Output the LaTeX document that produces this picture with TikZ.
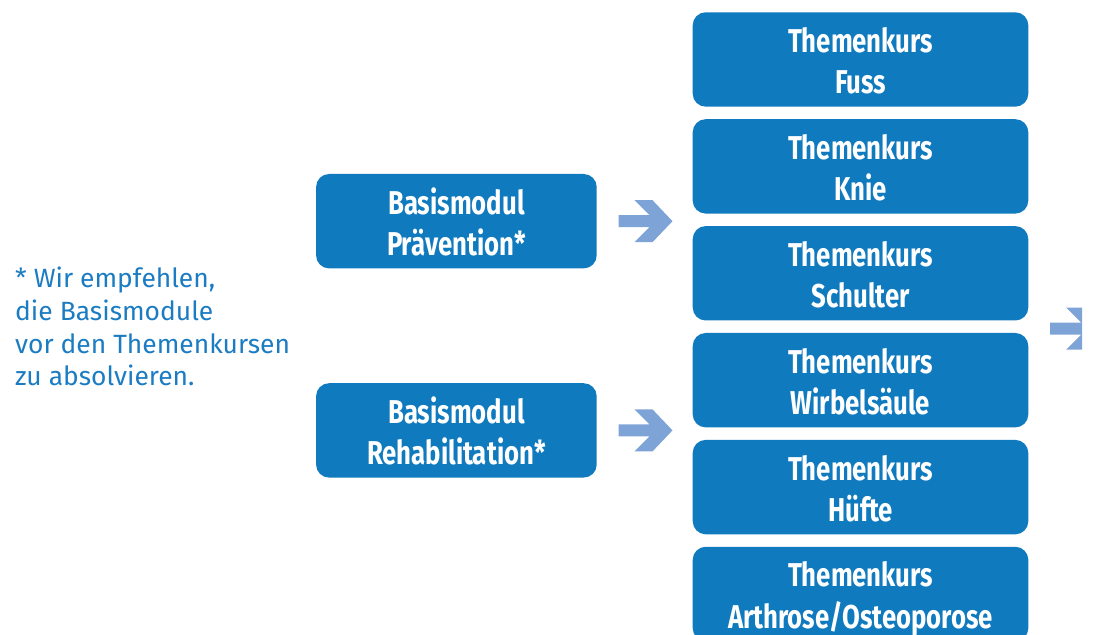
\documentclass[tikz,border=0pt]{standalone}
\usepackage{fontspec}
\setmainfont{Fira Sans}
\newfontfamily\kursfont{Fira Sans}[FakeStretch=0.78]
\usetikzlibrary{positioning}
\definecolor{kursblau}{RGB}{16,122,190}
\definecolor{pfeilblau}{RGB}{126,163,215}
\definecolor{textblau}{RGB}{27,124,194}
\begin{document}
\begin{tikzpicture}[x=1pt,y=1pt,node distance=12.1pt,
  kurs/.style={rectangle, rounded corners=13pt, fill=kursblau, text=white,
    minimum width=335.6pt, minimum height=94.4pt, inner sep=0pt, align=center,
    text height=69pt, text depth=0pt,
    font=\kursfont\bfseries\fontsize{33}{41.5}\selectfont},
  basis/.style={kurs, minimum width=280.6pt},
  hinweis/.style={text=textblau, align=left, inner sep=0pt,
    font=\fontsize{26.4}{32.7}\selectfont},
  pfeil/.pic={\fill[pfeilblau] (0,6) -- (31,6) -- (16,21) -- (34,21) -- (54,0)
    -- (34,-21) -- (16,-21) -- (31,-6) -- (0,-6) -- cycle;}]
  \path[use as bounding box, clip] (0,0) rectangle (1094,634);
  \node[kurs] (fuss) at (860.5,574.5) {Themenkurs\\Fuss};
  \node[kurs, below=of fuss] (knie) {Themenkurs\\Knie};
  \node[kurs, below=of knie] (schulter) {Themenkurs\\Schulter};
  \node[kurs, below=of schulter] (wirbel) {Themenkurs\\Wirbelsäule};
  \node[kurs, below=of wirbel] (huefte) {Themenkurs\\Hüfte};
  \node[kurs, below=of huefte] (arthrose) {Themenkurs\\Arthrose/Osteoporose};
  \node[basis] (praev) at (456.4,412.8) {Basismodul\\Prävention*};
  \node[basis, below=114.4pt of praev] (reha) {Basismodul\\Rehabilitation*};
  \node[hinweis, anchor=north west] (note) at (15,367)
    {* Wir empfehlen,\\die Basismodule\\vor den Themenkursen\\zu absolvieren.};
  \path (praev.east) ++(21.6,0) pic {pfeil};
  \path (reha.east) ++(21.6,0) pic {pfeil};
  \begin{scope}
    \clip (1000,0) rectangle (1082,634);
    \path (schulter.south east) ++(21.7,-8) pic {pfeil};
  \end{scope}
\end{tikzpicture}
\end{document}
